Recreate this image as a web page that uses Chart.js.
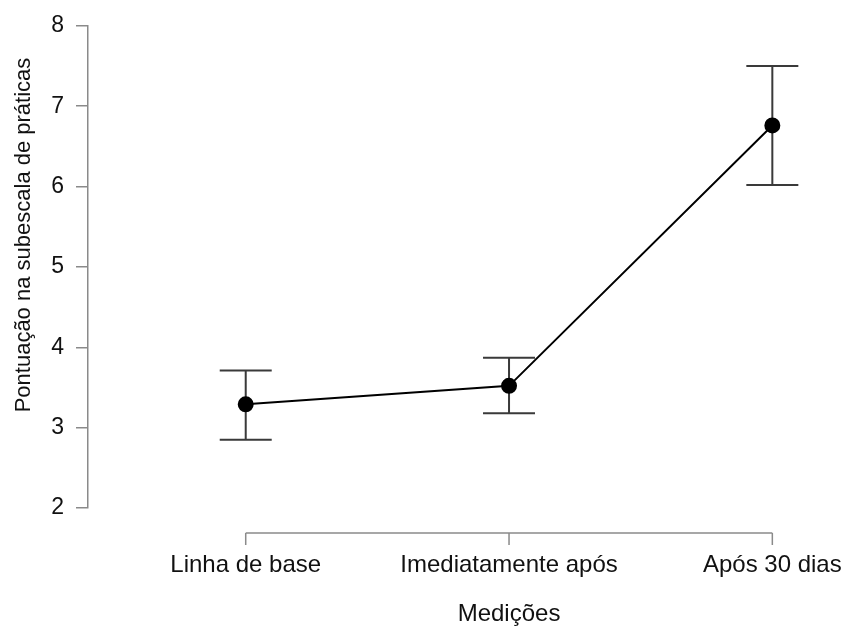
<!DOCTYPE html>
<html>
<head>
<meta charset="utf-8">
<script src="https://cdn.jsdelivr.net/npm/chart.js@4"></script>
<style>
  body { margin: 0; background: #fff; }
</style>
</head>
<body>
<canvas id="chart" width="851" height="627"></canvas>
<script>
const categories = ['Linha de base', 'Imediatamente após', 'Após 30 dias'];
const means = [3.29, 3.52, 6.76];
const upper = [3.71, 3.87, 7.50];
const lower = [2.85, 3.18, 6.02];
const yTicks = [2, 3, 4, 5, 6, 7, 8];

const yTitle = 'Pontuação na subescala de práticas';
const xTitle = 'Medições';
const font = "'Liberation Sans', Arial, Helvetica, sans-serif";
const axisGrey = '#8a8a8a';

// error bars go under the line and the points
const errorBars = {
    id: 'errorBars',
    beforeDatasetsDraw(chart) {
        const {ctx, scales: {x, y}} = chart;
        ctx.save();
        ctx.strokeStyle = '#3a3a3a';
        ctx.lineWidth = 2;
        for (let i = 0; i < means.length; i++) {
            const px = x.getPixelForValue(i);
            const yHi = y.getPixelForValue(upper[i]);
            const yLo = y.getPixelForValue(lower[i]);
            ctx.beginPath();
            ctx.moveTo(px, yHi); ctx.lineTo(px, yLo);
            ctx.moveTo(px - 26, yHi); ctx.lineTo(px + 26, yHi);
            ctx.moveTo(px - 26, yLo); ctx.lineTo(px + 26, yLo);
            ctx.stroke();
        }
        ctx.restore();
    }
};

// R style x axis: only spans the categories, sits below the plot
const rAxes = {
    id: 'rAxes',
    afterDraw(chart) {
        const {ctx, scales: {x, y}} = chart;
        const axisY = y.getPixelForValue(2) + 25;
        const x0 = x.getPixelForValue(0);
        const x1 = x.getPixelForValue(categories.length - 1);
        ctx.save();
        ctx.strokeStyle = axisGrey;
        ctx.lineWidth = 1.5;
        ctx.beginPath();
        ctx.moveTo(x0, axisY); ctx.lineTo(x1, axisY);
        for (let i = 0; i < categories.length; i++) {
            const px = x.getPixelForValue(i);
            ctx.moveTo(px, axisY); ctx.lineTo(px, axisY + 12);
        }
        ctx.stroke();

        ctx.fillStyle = '#111';
        ctx.font = '24px ' + font;
        ctx.textAlign = 'center';
        ctx.textBaseline = 'middle';
        ctx.fillText(xTitle, x.getPixelForValue(1), 614);

        ctx.translate(24, 235);
        ctx.rotate(-Math.PI / 2);
        ctx.font = '22px ' + font;
        ctx.fillText(yTitle, 0, 0);
        ctx.restore();
    }
};

const ctx = document.getElementById('chart').getContext('2d');
new Chart(ctx, {
    type: 'line',
    data: {
        datasets: [{
            data: means.map((m, i) => ({x: i, y: m})),
            borderColor: '#000',
            backgroundColor: '#000',
            borderWidth: 2,
            pointRadius: 7,
            pointHoverRadius: 7,
            tension: 0
        }]
    },
    options: {
        responsive: false,
        animation: false,
        layout: {
            padding: {top: 20, right: 21, left: 0, bottom: 0}
        },
        plugins: {
            legend: {display: false},
            tooltip: {enabled: false}
        },
        scales: {
            x: {
                type: 'linear',
                min: -0.599,
                max: 2.219,
                grid: {
                    display: true,
                    drawOnChartArea: false,
                    drawTicks: true,
                    tickLength: 37,
                    color: 'rgba(0,0,0,0)'
                },
                border: {display: false},
                afterBuildTicks: (scale) => {
                    scale.ticks = categories.map((c, i) => ({value: i}));
                },
                afterFit: (scale) => { scale.height = 119; },
                ticks: {
                    padding: 6,
                    maxRotation: 0,
                    autoSkip: false,
                    color: '#111',
                    font: {family: font, size: 24},
                    callback: (v) => categories[v]
                }
            },
            y: {
                min: yTicks[0],
                max: yTicks[yTicks.length - 1],
                grid: {
                    drawOnChartArea: false,
                    drawTicks: true,
                    tickLength: 12,
                    color: axisGrey,
                    lineWidth: 1.5
                },
                border: {display: true, color: axisGrey, width: 1.5},
                afterBuildTicks: (scale) => {
                    scale.ticks = yTicks.map(v => ({value: v}));
                },
                afterFit: (scale) => { scale.width = 88; },
                ticks: {
                    padding: 12,
                    color: '#111',
                    font: {family: font, size: 23}
                }
            }
        }
    },
    plugins: [errorBars, rAxes]
});
</script>
</body>
</html>
